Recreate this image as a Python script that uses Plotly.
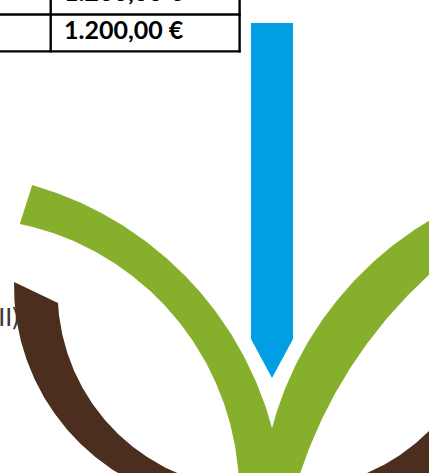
import numpy as np
import plotly.graph_objects as go

# ---- data (text content) ----
amount_labels = ["1.200,00 €", "1.200,00 €"]
row_marker = ["II)"]

# ---- layout / geometry (canvas pixels, y downwards) ----
W, H = 429, 473
GREEN = "#86AF2B"
BLUE = "#009FE3"
BROWN = "#4B2E1E"

# circle arcs: (cx, cy, r, start_deg, end_deg)
green_left_outer = (-62.0, 518.0, 346.0, 74.2, -5.0)
green_left_inner = (-36.6, 493.9, 275.8, -5.0, 78.2)
green_right_outer = (606.0, 518.0, 346.0, 185.0, 110.0)
green_right_inner = (743.5, 620.0, 467.0, 120.0, 185.0)
brown_left_outer = (234.0, 286.2, 220.0, 178.9, 272.0)
brown_left_inner = (254.5, 292.1, 196.8, 272.0, 183.2)
brown_right_outer = (310.0, 286.2, 222.0, 268.0, 362.0)
brown_right_inner = (289.5, 292.1, 196.8, 362.0, 268.0)
blue_x = [251, 293, 293, 272, 251]
blue_y = [23, 23, 339, 378, 339]


def arc(cx, cy, r, t0, t1, n=160):
    t = np.radians(np.linspace(t0, t1, n))
    return cx + r * np.cos(t), cy - r * np.sin(t)


def band(a, b):
    xa, ya = arc(*a)
    xb, yb = arc(*b)
    x = np.concatenate([xa, xb, xa[:1]])
    y = np.concatenate([ya, yb, ya[:1]])
    return x, y


fig = go.Figure()

# side label partly hidden behind the brown arc
fig.add_trace(go.Scatter(
    x=[19], y=[320], mode="text", text=row_marker,
    textposition="middle left",
    textfont=dict(family="Lato", size=25, color="#3A3A3A"),
    hoverinfo="skip", showlegend=False))


def poly(x, y, color):
    fig.add_trace(go.Scatter(x=x, y=y, mode="lines", fill="toself",
                             fillcolor=color, line=dict(width=0, color=color),
                             hoverinfo="skip", showlegend=False))


for a, b in [(brown_left_outer, brown_left_inner), (brown_right_outer, brown_right_inner)]:
    x, y = band(a, b)
    poly(x, y, BROWN)
for a, b in [(green_left_outer, green_left_inner), (green_right_outer, green_right_inner)]:
    x, y = band(a, b)
    poly(x, y, GREEN)
poly(blue_x, blue_y, BLUE)

# table grid
table_left, table_right = -2, 240.7
col_split = 50.7
row_lines = [14.5, 51.3]
for yl in row_lines:
    fig.add_trace(go.Scatter(x=[table_left, table_right], y=[yl, yl], mode="lines",
                             line=dict(color="black", width=2.3), hoverinfo="skip",
                             showlegend=False))
for xl in [col_split, 239.6]:
    fig.add_trace(go.Scatter(x=[xl, xl], y=[-2, 52.4], mode="lines",
                             line=dict(color="black", width=2.4), hoverinfo="skip",
                             showlegend=False))

row_centers = [-4.8, 32.6]
for lab, yc in zip(amount_labels, row_centers):
    fig.add_trace(go.Scatter(
        x=[64], y=[yc], mode="text", text=[lab], textposition="middle right",
        textfont=dict(family="Lato", size=25, color="black", weight="bold"),
        hoverinfo="skip", showlegend=False, cliponaxis=True))

fig.update_layout(
    width=W, height=H, margin=dict(l=0, r=0, t=0, b=0),
    paper_bgcolor="white", plot_bgcolor="white", showlegend=False,
    xaxis=dict(range=[0, W], visible=False, fixedrange=True),
    yaxis=dict(range=[H, 0], visible=False, fixedrange=True),
)
fig.write_html("out.html", config={"displayModeBar": False},
               post_script="document.body.style.margin='0';document.body.style.overflow='hidden';")
